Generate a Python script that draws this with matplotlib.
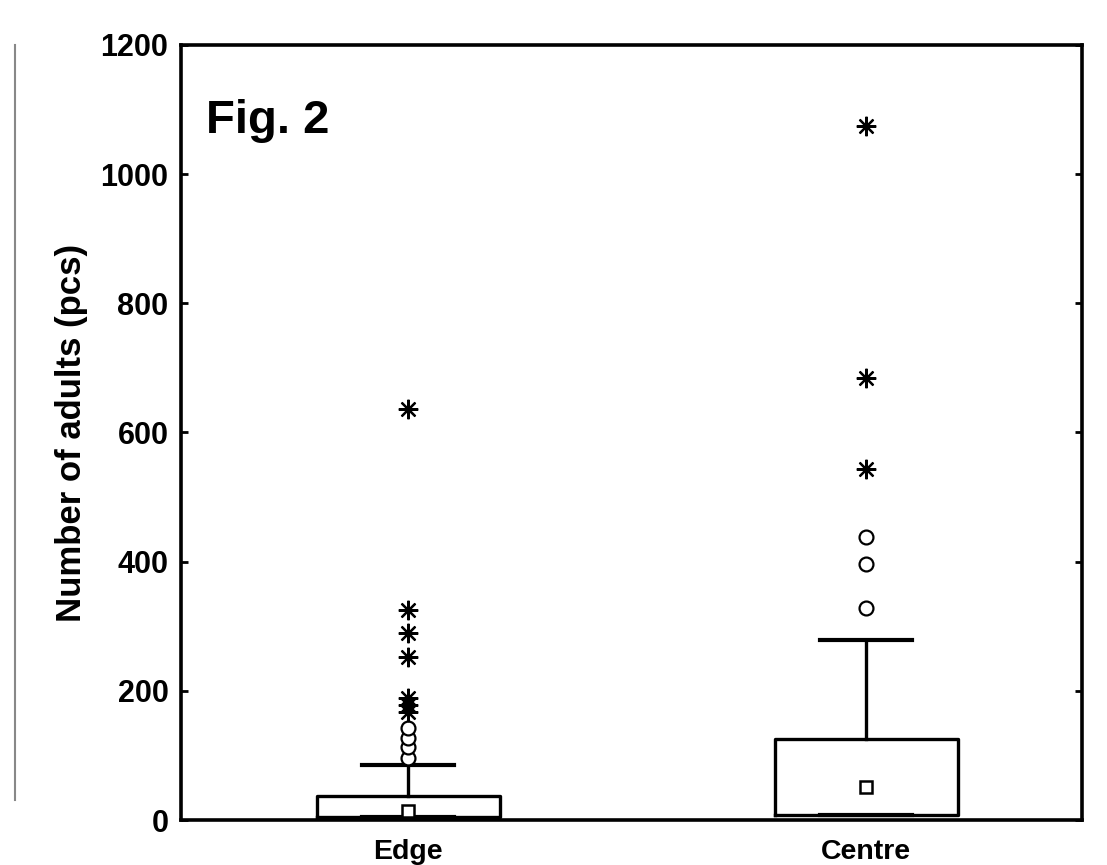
import matplotlib
matplotlib.use("Agg")
import matplotlib.pyplot as plt
from matplotlib.lines import Line2D

# === data ===
categories = ["Edge", "Centre"]
q1 = [4, 7]
q3 = [37, 126]
medians = [14, 51]
whisker_hi = [85, 279]
outliers_edge = [96, 113, 127, 142]
outliers_centre = [328, 396, 438]
extremes_edge = [167, 178, 189, 252, 290, 325, 637]
extremes_centre = [544, 684, 1074]
yticks = [0, 200, 400, 600, 800, 1000, 1200]

plt.rcParams['font.family'] = ['Liberation Sans', 'DejaVu Sans']
plt.rcParams['font.weight'] = 'bold'

fig = plt.figure(figsize=(11.07, 8.65), dpi=100)
ax = fig.add_axes([0.1635, 0.052, 0.8139, 0.896])

stats = []
for i, name in enumerate(categories):
    stats.append({"label": name, "q1": q1[i], "q3": q3[i], "med": medians[i],
                  "whislo": q1[i], "whishi": whisker_hi[i], "fliers": []})

pos = list(range(len(categories)))
ax.bxp(stats, positions=pos, widths=0.4, capwidths=0.2, showfliers=False,
       boxprops=dict(color='black', linewidth=2.4),
       whiskerprops=dict(color='black', linewidth=2.4),
       capprops=dict(color='black', linewidth=3.0),
       medianprops=dict(linewidth=0))

# median squares
ax.plot(pos, medians, linestyle='none', marker='s', markersize=9,
        markerfacecolor='white', markeredgecolor='black', markeredgewidth=1.8, zorder=4)

# outliers (circles) and extremes (asterisks)
for p, vals in zip(pos, [outliers_edge, outliers_centre]):
    ax.plot([p] * len(vals), vals, linestyle='none', marker='o', markersize=10,
            markerfacecolor='white', markeredgecolor='black', markeredgewidth=1.6, zorder=3)
for p, vals in zip(pos, [extremes_edge, extremes_centre]):
    ax.plot([p] * len(vals), vals, linestyle='none', marker=(8, 2, 0), markersize=14,
            color='black', markeredgewidth=1.6, zorder=3)

ax.set_xlim(-0.496, 1.471)
ax.set_ylim(0, 1200)
ax.set_yticks(yticks)
ax.set_yticklabels([str(t) for t in yticks], fontsize=22, fontweight='bold')
ax.set_xticks(pos)
ax.set_xticklabels(categories, fontsize=20.5, fontweight='bold')
ax.tick_params(axis='x', length=0, pad=14)
ax.tick_params(axis='y', direction='in', length=5, width=2, right=True, pad=9)
for s in ax.spines.values():
    s.set_linewidth(2.6)

ax.set_ylabel("Number of adults (pcs)", fontsize=25, fontweight='bold', labelpad=9)
ax.text(0.028, 0.93, "Fig. 2", transform=ax.transAxes, fontsize=34,
        fontweight='bold', va='top', ha='left')

# stray border line at the left of the scan
fig.add_artist(Line2D([15 / 1107, 15 / 1107], [1 - 45 / 865, 1 - 800 / 865],
                      transform=fig.transFigure, color='#888888', linewidth=1.5))

fig.savefig("out.png", dpi=100)
